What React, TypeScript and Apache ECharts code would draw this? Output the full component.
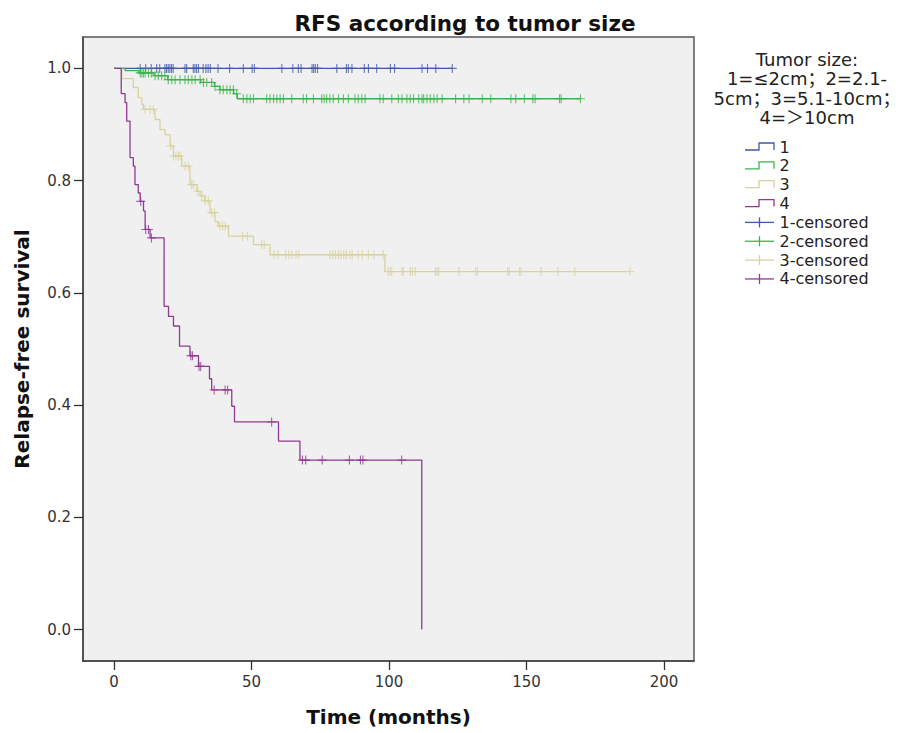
import React, { useEffect, useRef } from 'react';
import * as echarts from 'echarts';

const TITLE = 'RFS according to tumor size';
const X_NAME = 'Time (months)';
const Y_NAME = 'Relapse-free survival';
const X_TICKS = [0, 50, 100, 150, 200];
const Y_TICKS = [0, 0.2, 0.4, 0.6, 0.8, 1.0];
const GROUPS = ['1', '2', '3', '4'];
const LEGEND_TITLE = ['Tumor size:', '1=≤2cm；2=2.1-', '5cm；3=5.1-10cm；', '4=＞10cm'];

// Kaplan-Meier steps: [time (months), survival after the step]
const steps1: [number, number][] = [[0, 1], [123, 1]];
const steps2: [number, number][] = [
  [0, 1], [4, 0.996], [9, 0.992], [14.5, 0.987], [19.5, 0.98], [31.5, 0.975],
  [36.5, 0.968], [38.5, 0.962], [43.5, 0.955], [44.8, 0.946], [169.6, 0.946],
];
const steps3: [number, number][] = [
  [0, 1], [2.8, 0.982], [7, 0.966], [8.8, 0.948], [10.1, 0.936], [10.7, 0.927],
  [14.9, 0.909], [16.7, 0.891], [18.5, 0.882], [20.4, 0.862], [21.6, 0.844],
  [24.6, 0.826], [27.6, 0.793], [30.1, 0.781], [31.3, 0.773], [33, 0.764],
  [34.9, 0.743], [36.7, 0.727], [37.9, 0.719], [41.6, 0.701], [50.7, 0.686],
  [56.7, 0.668], [98.5, 0.638], [187.6, 0.638],
];
const steps4: [number, number][] = [
  [0, 1], [2.6, 0.955], [4, 0.939], [4.6, 0.906], [5.8, 0.841], [7, 0.826],
  [7.6, 0.793], [8.8, 0.778], [9.5, 0.763], [10.7, 0.746], [11.3, 0.713],
  [13.1, 0.698], [18.2, 0.576], [19.8, 0.558], [21.6, 0.541], [23.8, 0.505],
  [27.6, 0.488], [30.7, 0.469], [34.7, 0.447], [35.5, 0.427], [42.8, 0.398],
  [43.8, 0.37], [59.8, 0.336], [67.6, 0.302], [111.9, 0.302], [111.9, 0],
];

// censored times (months)
const censor1 = [
  9.5, 11.5, 13.5, 15.5, 16.6, 18.5, 19.1, 19.7, 20.3, 20.9, 21.5, 25.8, 26.4,
  28.8, 29.4, 30, 30.7, 32.4, 33.4, 34.2, 35, 37.8, 42, 47, 50.2, 51, 61, 65,
  67, 68, 72, 72.6, 73.2, 74, 81, 84.5, 85.2, 86.5, 91, 92.5, 95.5, 100.5, 102,
  112, 114, 117, 123,
];
const censor2 = [
  9.5, 10.1, 10.7, 11.3, 12.5, 13.7, 14.9, 16.1, 17.3, 18.5, 19.7, 21, 22.2, 24,
  25.8, 27, 28.3, 29.5, 31.3, 32.5, 33.7, 35.5, 36.7, 38.5, 39.7, 41, 42.2, 43.4,
  44.6, 47, 48.3, 49.5, 50.7, 55.5, 56.7, 58, 59.2, 60.4, 61.6, 64.6, 68.8, 70,
  72.5, 75.5, 76.4, 77.3, 78.5, 79.7, 81.6, 83.4, 85.2, 87.6, 88.8, 90.1, 91.3,
  96.7, 97.9, 101, 103.4, 104.7, 106.5, 107.7, 108.9, 110.8, 112, 112.6, 113.8,
  115, 116.3, 117.5, 119.3, 124.2, 127.2, 129.1, 133.9, 137, 144.3, 146.1, 149.2,
  152.3, 153.1, 162, 162.6, 169.6,
];
const censor3 = [
  11.3, 13.1, 14.3, 20.6, 21.6, 22.5, 23.4, 24, 25.8, 27, 28.2, 28.8, 30.5, 31.9,
  33.1, 34.3, 35.5, 36.5, 38.5, 39.5, 40.5, 46.7, 48.5, 53.7, 54.6, 58.2, 59.7,
  62.4, 63.5, 64.6, 66.2, 67.2, 78.5, 79.5, 80.5, 81.6, 82.5, 83.5, 84.5, 85.8,
  86.6, 88.8, 90.3, 92.5, 94.5, 97.9, 99.7, 100.4, 101, 104.7, 105.2, 107.7,
  108.5, 109.5, 116.9, 117.5, 118.1, 125.4, 131.5, 132.1, 143.1, 143.7, 147.4,
  148, 155.3, 161.4, 167.5, 187.6,
];
const censor4 = [
  9.7, 11.5, 12.5, 13.6, 27.9, 28.5, 30.9, 31.5, 36.4, 40.4, 41.3, 57.3, 68.5,
  69.7, 75.7, 85.6, 89.6, 90.5, 104.6,
];

const COLORS = ['#4257ab', '#3cb44b', '#d8d29f', '#913a92'];
const STEPS = [steps1, steps2, steps3, steps4];
const CENSORS = [censor1, censor2, censor3, censor4];

function levelAt(steps: [number, number][], t: number): number {
  let v = steps[0][1];
  for (const [x, y] of steps) {
    if (x <= t) v = y;
    else break;
  }
  return v;
}

const FONT = 'DejaVu Sans';

export default function App() {
  const ref = useRef<HTMLDivElement>(null);

  useEffect(() => {
    document.body.style.margin = '0';
    if (!ref.current) return;
    const chart = echarts.init(ref.current, null, { renderer: 'svg' });

    const lineSeries = GROUPS.map((g, i) => ({
      name: g,
      type: 'line',
      step: 'end',
      data: STEPS[i],
      showSymbol: false,
      symbol: 'none',
      silent: true,
      lineStyle: { color: COLORS[i], width: 1.3 },
      z: 2 + i,
    }));
    const censorSeries = GROUPS.map((g, i) => ({
      name: g + '-censored',
      type: 'scatter',
      data: CENSORS[i].map((t) => [t, levelAt(STEPS[i], t)]),
      symbol: 'path://M0,5L10,5M5,0L5,10',
      symbolSize: [9, 9],
      silent: true,
      itemStyle: { color: 'rgba(0,0,0,0)', borderColor: COLORS[i], borderWidth: 1.1 },
      z: 10 + i,
    }));

    const legendX = 745;
    const legendTextX = 779.5;
    const legendY0 = 147;
    const legendDy = 18.85;
    const graphics: any[] = [];
    LEGEND_TITLE.forEach((line, k) => {
      graphics.push({
        type: 'text',
        x: 807,
        y: 59 + k * 19.5,
        style: {
          text: line,
          fill: '#222',
          font: `18px "${FONT}", "Noto Sans CJK SC"`,
          textAlign: 'center',
          textVerticalAlign: 'middle',
        },
      });
    });
    GROUPS.forEach((g, i) => {
      const y = legendY0 + i * legendDy;
      graphics.push({
        type: 'polyline',
        shape: { points: [[legendX, y + 3], [legendX + 14, y + 3], [legendX + 14, y - 4], [legendX + 29, y - 4], [legendX + 29, y + 3]] },
        style: { stroke: COLORS[i], lineWidth: 1.3, fill: 'none' },
      });
      graphics.push({
        type: 'text', x: legendTextX, y,
        style: { text: g, fill: '#222', font: `16px "${FONT}"`, textVerticalAlign: 'middle' },
      });
    });
    GROUPS.forEach((g, i) => {
      const y = legendY0 + (i + 4) * legendDy;
      graphics.push({
        type: 'line',
        shape: { x1: legendX, y1: y, x2: legendX + 29, y2: y },
        style: { stroke: COLORS[i], lineWidth: 1.3 },
      });
      graphics.push({
        type: 'line',
        shape: { x1: legendX + 14.5, y1: y - 5, x2: legendX + 14.5, y2: y + 5 },
        style: { stroke: COLORS[i], lineWidth: 1.3 },
      });
      graphics.push({
        type: 'text', x: legendTextX, y,
        style: { text: g + '-censored', fill: '#222', font: `16px "${FONT}"`, textVerticalAlign: 'middle' },
      });
    });

    chart.setOption({
      animation: false,
      backgroundColor: '#ffffff',
      title: {
        text: TITLE,
        left: 460,
        textAlign: 'center',
        top: 7,
        textStyle: { fontFamily: FONT, fontWeight: 'bold', fontSize: 21.5, color: '#111' },
      },
      grid: {
        left: 83,
        top: 37,
        right: 207,
        bottom: 72,
        show: true,
        backgroundColor: '#f0f0f0',
        borderColor: '#555',
        borderWidth: 1.5,
      },
      xAxis: {
        type: 'value',
        min: -11.3,
        max: 210.9,
        name: X_NAME,
        nameLocation: 'middle',
        nameGap: 46,
        nameTextStyle: { fontFamily: FONT, fontWeight: 'bold', fontSize: 20, color: '#111' },
        splitLine: { show: false },
        axisLine: { show: true, onZero: false, lineStyle: { color: '#444', width: 1.5 } },
        axisTick: { show: true, length: 9, customValues: X_TICKS, lineStyle: { color: '#333', width: 1.3 } },
        axisLabel: {
          customValues: X_TICKS,
          margin: 13,
          fontFamily: FONT,
          fontSize: 15,
          color: '#333',
        },
      },
      yAxis: {
        type: 'value',
        min: -0.056,
        max: 1.056,
        name: Y_NAME,
        nameLocation: 'middle',
        nameGap: 51,
        nameTextStyle: { fontFamily: FONT, fontWeight: 'bold', fontSize: 20, color: '#111' },
        splitLine: { show: false },
        axisLine: { show: true, onZero: false, lineStyle: { color: '#444', width: 1.5 } },
        axisTick: { show: true, length: 9, customValues: Y_TICKS, lineStyle: { color: '#333', width: 1.3 } },
        axisLabel: {
          customValues: Y_TICKS,
          margin: 12,
          fontFamily: FONT,
          fontSize: 15,
          color: '#333',
          formatter: (v: number) => v.toFixed(1),
        },
      },
      graphic: graphics,
      series: [...lineSeries, ...censorSeries],
    });

    return () => chart.dispose();
  }, []);

  return (
    <div
      ref={ref}
      style={{ position: 'absolute', left: 0, top: 0, width: 901, height: 733 }}
    />
  );
}
